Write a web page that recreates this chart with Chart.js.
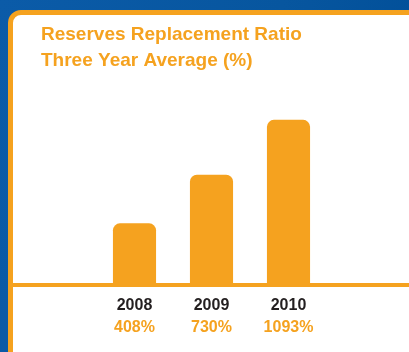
<!DOCTYPE html>
<html lang="en">

<head>
  <meta charset="UTF-8">
  <script src="https://cdn.jsdelivr.net/npm/chart.js"></script>
  <title>Reserves Replacement Ratio</title>
  <style>
    body { margin: 0; width: 409px; height: 352px; overflow: hidden; position: relative;
      background: linear-gradient(100deg, #0b5ba8 0%, #07569f 60%, #004e98 100%); }
    #painel { position: absolute; left: 8px; top: 10px; width: 420px; height: 360px;
      border: 5px solid #f5a21f; border-top-left-radius: 13px; background: #fff; }
    #grafico { position: absolute; left: 0; top: 0; }
  </style>
</head>

<body>
  <div id="painel"></div>
  <canvas id="grafico" width="409" height="352"></canvas>

<script>
  const anos = ['2008', '2009', '2010'];
  const valores = [408, 730, 1093];
  const rotulosPct = ['408%', '730%', '1093%'];

  const laranja = '#f5a21f';
  const fonte = "'Liberation Sans', Arial, sans-serif";

  // linha laranja da base, de borda a borda do painel
  const linhaBase = {
    id: 'linhaBase',
    afterDatasetsDraw(chart) {
      const y = chart.scales.y.getPixelForValue(0);
      const ctx = chart.ctx;
      ctx.save();
      ctx.fillStyle = laranja;
      ctx.fillRect(12, y - 2, chart.width, 4);
      ctx.restore();
    }
  };

  new Chart(document.getElementById('grafico'), {
    type: 'bar',
    data: {
      labels: anos,
      datasets: [{
        data: valores,
        backgroundColor: laranja,
        borderWidth: 0,
        borderRadius: { topLeft: 7, topRight: 7 },
        borderSkipped: 'start',
        barPercentage: 0.56,
        categoryPercentage: 1
      }]
    },
    options: {
      responsive: false,
      animation: false,
      layout: { padding: { left: 41, right: 82, top: 0, bottom: 16.5 } },
      scales: {
        x: {
          weight: 0,
          grid: { display: false, drawTicks: false },
          border: { display: false },
          ticks: { color: '#231f20', padding: 10.5, font: { family: fonte, size: 16, weight: 'bold', lineHeight: 1.2 } },
          afterFit(escala) { escala.height = 28.5; }
        },
        x2: {
          type: 'category',
          position: 'bottom',
          weight: 1,
          offset: true,
          labels: rotulosPct,
          grid: { display: false, drawTicks: false },
          border: { display: false },
          ticks: { color: laranja, padding: 4, font: { family: fonte, size: 16, weight: 'bold', lineHeight: 1.2 } },
          afterFit(escala) { escala.height = 22; }
        },
        y: {
          min: 0,
          max: 1100,
          grid: { display: false, drawTicks: false },
          border: { display: false },
          ticks: { display: false },
          afterFit(escala) { escala.width = 55; }
        }
      },
      plugins: {
        legend: { display: false },
        tooltip: { enabled: false },
        title: {
          display: true,
          align: 'start',
          text: ['Reserves Replacement Ratio', 'Three Year Average (%)'],
          color: laranja,
          font: { family: fonte, size: 19, weight: 'bold', lineHeight: 1.4 },
          padding: { top: 21, bottom: 44.6 }
        }
      }
    },
    plugins: [linhaBase]
  });
</script>
</body>

</html>
